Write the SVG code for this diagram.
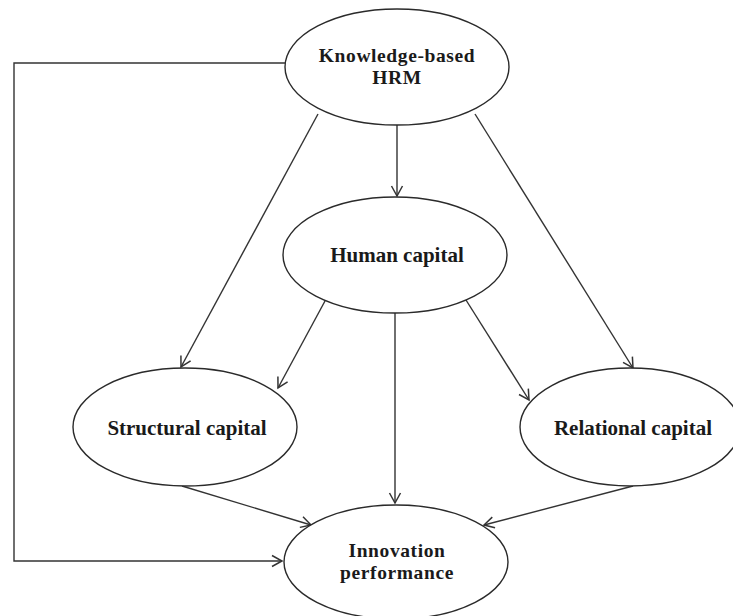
<svg xmlns="http://www.w3.org/2000/svg" width="733" height="616" viewBox="0 0 733 616">
<style>
.node ellipse{fill:#fff;stroke:#2a2a2a;stroke-width:1.4}
.node text{font-family:"Liberation Serif","Times New Roman",serif;font-weight:bold;font-size:21px;fill:#1a1a1a;text-anchor:middle}
.node text.two{font-size:19.5px;letter-spacing:0.6px}
.edges path{fill:none;stroke:#333;stroke-width:1.4}
</style>
<defs>
<marker id="arr" markerUnits="userSpaceOnUse" markerWidth="14" markerHeight="14" viewBox="0 0 14 14" refX="12" refY="7" orient="auto">
<path d="M2,1.5 L12,7 L2,12.5" fill="none" stroke="#333" stroke-width="1.5"/>
</marker>
</defs>
<rect width="733" height="616" fill="#fff"/>
<g class="edges">
<path d="M285,63 L14,63 L14,561 L282,561" marker-end="url(#arr)"/>
<path d="M397,125 L397,196" marker-end="url(#arr)"/>
<path d="M318,114 L181,367" marker-end="url(#arr)"/>
<path d="M475,114 L633,368" marker-end="url(#arr)"/>
<path d="M325,301 L278,388" marker-end="url(#arr)"/>
<path d="M466,300 L529,400" marker-end="url(#arr)"/>
<path d="M395,313 L395,503" marker-end="url(#arr)"/>
<path d="M182,486 L311,525" marker-end="url(#arr)"/>
<path d="M633,486 L484,525" marker-end="url(#arr)"/>
</g>
<g id="kbhrm" class="node">
<ellipse cx="397" cy="67" rx="112" ry="58"/>
<text class="two" x="397" y="62">Knowledge-based</text>
<text class="two" x="397" y="84">HRM</text>
</g>
<g id="human" class="node">
<ellipse cx="395" cy="255" rx="112" ry="58"/>
<text x="397" y="262">Human capital</text>
</g>
<g id="structural" class="node">
<ellipse cx="185" cy="427" rx="112" ry="59"/>
<text x="187" y="435">Structural capital</text>
</g>
<g id="relational" class="node">
<ellipse cx="630" cy="427" rx="110" ry="59"/>
<text x="633" y="435">Relational capital</text>
</g>
<g id="innovation" class="node">
<ellipse cx="396" cy="562" rx="112" ry="57"/>
<text class="two" x="397" y="557">Innovation</text>
<text class="two" x="397" y="579">performance</text>
</g>
</svg>
